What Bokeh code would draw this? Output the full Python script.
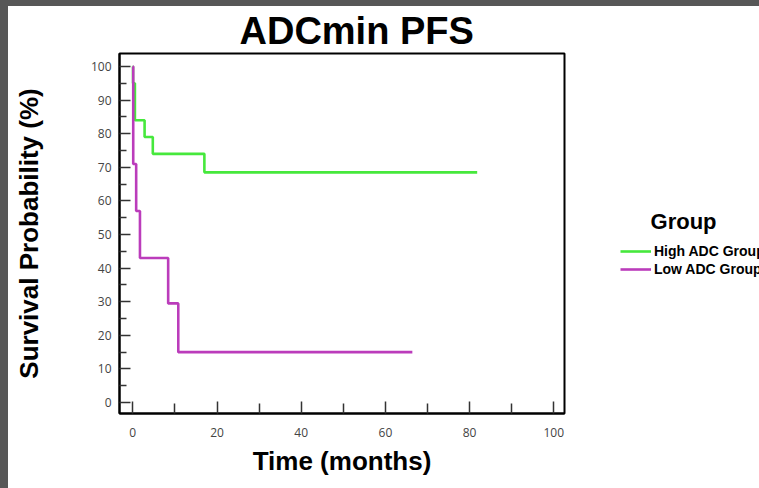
from bokeh.plotting import figure
from bokeh.layouts import row, column
from bokeh.models import Range1d, FixedTicker, Legend, LegendItem, Spacer
from bokeh.embed import file_html
from bokeh.resources import INLINE

# ---- data ----
high_time = [0, 0.05, 0.5, 2.8, 4.75, 17.0, 81.8]
high_surv = [100, 95, 84, 79, 74, 68.5, 68.5]
low_time = [0, 0.1, 0.8, 1.7, 8.4, 10.8, 66.4]
low_surv = [100, 71, 57, 43, 29.5, 15, 15]

y_major = [0, 10, 20, 30, 40, 50, 60, 70, 80, 90, 100]
y_minor = [5, 15, 25, 35, 45, 55, 65, 75, 85, 95]
x_major = [0, 20, 40, 60, 80, 100]
x_minor = [10, 30, 50, 70, 90]

group_names = ["High ADC Group", "Low ADC Group"]
colors = ["#46e83c", "#bb3cbb"]

FONT = "Liberation Sans"
DARK = "#575757"

p = figure(width=558, height=482, output_backend="svg", toolbar_location=None,
           x_range=Range1d(-3.16, 102.54), y_range=Range1d(-3.26, 103.86),
           min_border_left=111, min_border_right=2, min_border_top=46,
           min_border_bottom=75,
           title="ADCmin PFS", x_axis_label="Time (months)",
           y_axis_label="Survival Probability (%)")
p.xgrid.visible = False
p.ygrid.visible = False
p.outline_line_color = "black"
p.outline_line_width = 2
p.background_fill_color = "white"
p.border_fill_color = "white"

p.title.align = "left"
p.title.offset = 120
p.title.standoff = 3
p.title.text_font = FONT
p.title.text_font_style = "bold"
p.title.text_font_size = "38px"
p.title.text_color = "black"

r_high = p.step(high_time, high_surv, mode="after", line_color=colors[0], line_width=2.6)
r_low = p.step(low_time, low_surv, mode="after", line_color=colors[1], line_width=2.6)

p.yaxis.ticker = FixedTicker(ticks=y_major, minor_ticks=y_minor)
p.xaxis.ticker = FixedTicker(ticks=x_major, minor_ticks=x_minor)
for ax in (p.xaxis[0], p.yaxis[0]):
    ax.axis_line_color = "black"
    ax.axis_line_width = 2
    ax.major_tick_line_color = "#333333"
    ax.minor_tick_line_color = "#333333"
    ax.major_tick_line_width = 1.5
    ax.minor_tick_line_width = 1.5
    ax.major_tick_out = 0
    ax.minor_tick_out = 0
    ax.major_label_text_font = "Open Sans"
    ax.major_label_text_font_size = "12px"
    ax.major_label_text_color = "#444444"
    ax.axis_label_text_font = FONT
    ax.axis_label_text_font_style = "bold"
    ax.axis_label_text_color = "black"
p.yaxis.major_tick_in = 11
p.yaxis.minor_tick_in = 7
p.xaxis.major_tick_in = 12
p.xaxis.minor_tick_in = 10
p.yaxis.major_label_standoff = 8
p.xaxis.major_label_standoff = 14
p.xaxis.axis_label_text_font_size = "26px"
p.yaxis.axis_label_text_font_size = "26px"
p.xaxis.axis_label_standoff = 6
p.yaxis.axis_label_standoff = 44

# legend panel on the right
q = figure(width=193, height=482, output_backend="svg", toolbar_location=None,
           x_range=Range1d(0, 1), y_range=Range1d(0, 1),
           x_axis_type=None, y_axis_type=None, min_border=0)
q.xgrid.visible = False
q.ygrid.visible = False
q.outline_line_color = None
q.background_fill_color = "white"
q.border_fill_color = "white"
# legend proxies (kept outside the visible range)
g_high = q.line([5, 6], [5, 6], line_color=colors[0], line_width=2.6)
g_low = q.line([5, 6], [5, 6], line_color=colors[1], line_width=2.6)

nb = "\u00a0" * 5
legend = Legend(items=[LegendItem(label=group_names[0], renderers=[g_high]),
                       LegendItem(label=group_names[1], renderers=[g_low])],
                title=nb + "Group", title_text_font=FONT, title_text_font_style="bold",
                title_text_font_size="22px", title_text_color="black", title_standoff=8,
                location=(54, 136), padding=0, margin=0, spacing=2,
                glyph_width=31, glyph_height=14, label_height=14, label_standoff=3,
                label_text_font=FONT, label_text_font_style="bold",
                label_text_font_size="14px", label_text_color="black",
                border_line_alpha=0, background_fill_alpha=0)
q.add_layout(legend, "center")

top_strip = Spacer(width=759, height=6, styles={"background-color": DARK})
left_strip = Spacer(width=8, height=482, styles={"background-color": DARK})

layout = column(top_strip, row(left_strip, p, q, spacing=0), spacing=0)
open("out.html", "w").write(file_html(layout, INLINE))
